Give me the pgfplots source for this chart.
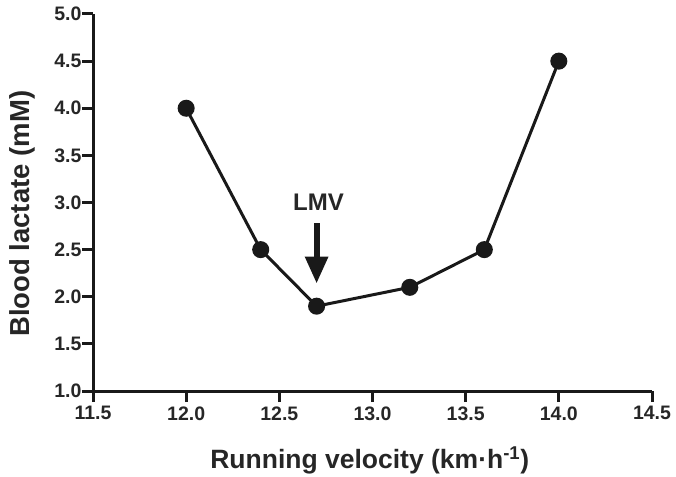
\documentclass[border=0pt]{standalone}
\usepackage{fontspec}
\setmainfont{Liberation Sans}
\usepackage{pgfplots}
\pgfplotsset{compat=1.18}
\usetikzlibrary{arrows.meta}
\definecolor{txt}{gray}{0.15}
\begin{document}
\begin{tikzpicture}
\begin{axis}[
  at={(93pt,85pt)}, anchor=south west,
  scale only axis, width=559pt, height=377pt,
  xmin=11.5, xmax=14.5, ymin=1, ymax=5,
  axis x line*=bottom, axis y line*=left,
  axis line style={line width=3pt, black!90},
  xtick={11.5,12,12.5,13,13.5,14,14.5},
  ytick={1,1.5,2,2.5,3,3.5,4,4.5,5},
  tick align=outside, major tick length=11pt,
  tick style={line width=3pt, black!90},
  /pgf/number format/assume math mode=true,
  /pgf/number format/fixed, /pgf/number format/fixed zerofill, /pgf/number format/precision=1,
  tick label style={font=\bfseries\fontsize{19.5}{22}\selectfont, text=txt},
  xticklabel style={yshift=-1pt},
  yticklabel style={xshift=3pt},
  xlabel={Running velocity (km·h\textsuperscript{-1})},
  ylabel={Blood lactate (mM)},
  xlabel style={font=\bfseries\fontsize{26.5}{30}\selectfont, text=txt, at={(axis description cs:0.495,-0.205)}, anchor=base},
  ylabel style={font=\bfseries\fontsize{27.5}{32}\selectfont, text=txt, at={(axis description cs:-0.097,0.47)}, anchor=south},
  clip=false,
]
\addplot[black!90, line width=3pt, mark=*, mark size=7pt, mark options={fill=black!90}] coordinates {
 (12.0,4.0) (12.4,2.5) (12.7,1.9) (13.2,2.1) (13.6,2.5) (14.0,4.5)
};
\draw[black!90, line width=6pt, -{Triangle[length=27pt,width=22pt]}] (axis cs:12.7,2.78) -- (axis cs:12.7,2.14);
\node[font=\bfseries\fontsize{24}{28}\selectfont, text=txt] at (axis cs:12.71,3.0) {LMV};
\end{axis}
\pgfresetboundingbox
\path (0,0) rectangle (676pt,476pt);
\end{tikzpicture}
\end{document}
